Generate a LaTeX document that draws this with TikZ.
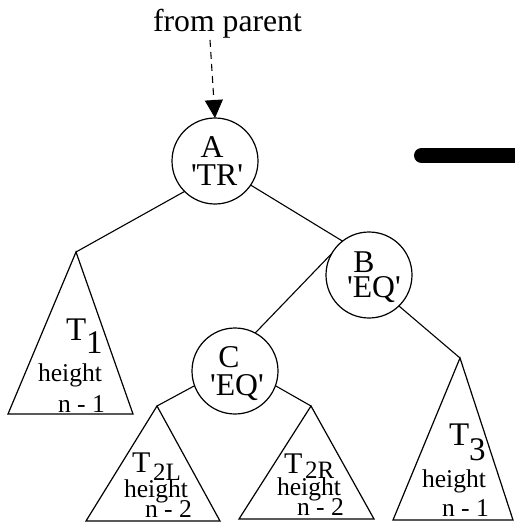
\documentclass[tikz,border=0pt]{standalone}
\usepackage{fontspec}
\setmainfont{Liberation Serif}[Ligatures=TeXOff]
\usetikzlibrary{arrows.meta}
\begin{document}
\begin{tikzpicture}[x=1pt,y=-1pt,
  every node/.style={inner sep=0pt, outer sep=0pt},
  nd/.style={draw, circle, minimum size=86pt, line width=1.2pt},
  lab/.style={font=\fontsize{31.7}{32}\selectfont, anchor=base},
  tbig/.style={font=\fontsize{33}{33}\selectfont, anchor=base west},
  tmid/.style={font=\fontsize{30}{30}\selectfont, anchor=base west},
  tsml/.style={font=\fontsize{25}{25}\selectfont, anchor=base west},
  ht/.style={font=\fontsize{25.6}{26}\selectfont, anchor=base west},
  edge/.style={line width=1.1pt},
  tri/.style={line width=1.2pt, line join=miter}]
\useasboundingbox (0,0) rectangle (514,527);

% from parent
\node[lab] (fp) at (227.5,32) {from parent};
\coordinate (fpend) at (210,40);

% circle nodes
\node[nd] (A) at (215,161) {};
\node[nd] (B) at (369,275) {};
\node[nd] (C) at (235,371) {};
\node[lab] (Aa) at (212,157) {A};
\node[lab] (At) at (217,185) {'TR'};
\node[lab] (Ba) at (364,272) {B};
\node[lab] (Bt) at (374,297) {'EQ'};
\node[lab] (Ca) at (229,367) {C};
\node[lab] (Ct) at (237,395) {'EQ'};

\draw[edge, dash pattern=on 7pt off 5pt, -{Triangle[length=18pt,width=18pt]}] (fpend) -- (A.north);

% triangles
\coordinate (t1) at (76,252);
\coordinate (t1l) at (8,414);
\coordinate (t1r) at (133,414);
\coordinate (t2l) at (157,406);
\coordinate (t2ll) at (86,521);
\coordinate (t2lr) at (220,521);
\coordinate (t2r) at (311,406);
\coordinate (t2rl) at (239,519);
\coordinate (t2rr) at (374,519);
\coordinate (t3) at (460,358);
\coordinate (t3l) at (393,520);
\coordinate (t3r) at (513,520);
\draw[tri] (t1) -- (t1l) -- (t1r) -- cycle;
\draw[tri] (t2l) -- (t2ll) -- (t2lr) -- cycle;
\draw[tri] (t2r) -- (t2rl) -- (t2rr) -- cycle;
\draw[tri] (t3) -- (t3l) -- (t3r) -- cycle;

% connectors
\draw[edge] (A.225) -- (t1);
\draw[edge] (A.326) -- (B.128);
\draw[edge] (B.150) -- (C.62);
\draw[edge] (B.314) -- (t3);
\draw[edge] (C.200) -- (t2l);
\draw[edge] (C.340) -- (t2r);

% triangle labels
\node[tbig] (T1a) at (66,340) {T};
\node[tbig] (T1b) at (86,353) {1};
\node[ht] (T1c) at (38,381) {height};
\node[ht] (T1d) at (58,412) {n - 1};

\node[tmid] (T2La) at (132,472) {T};
\node[tsml] (T2Lb) at (153,480) {2L};
\node[ht] (T2Lc) at (124,497) {height};
\node[ht] (T2Ld) at (145,517) {n - 2};

\node[tmid] (T2Ra) at (284,473) {T};
\node[tsml] (T2Rb) at (305,478) {2R};
\node[ht] (T2Rc) at (277,495) {height};
\node[ht] (T2Rd) at (297,515) {n - 2};

\node[tbig] (T3a) at (449,445) {T};
\node[tbig] (T3b) at (469,460) {3};
\node[ht] (T3c) at (422,487) {height};
\node[ht] (T3d) at (442,516) {n - 1};

% thick bar
\coordinate (bar1) at (421.5,155.5);
\coordinate (bar2) at (530,155.5);
\draw[line width=15pt, line cap=round] (bar1) -- (bar2);
\end{tikzpicture}
\end{document}
